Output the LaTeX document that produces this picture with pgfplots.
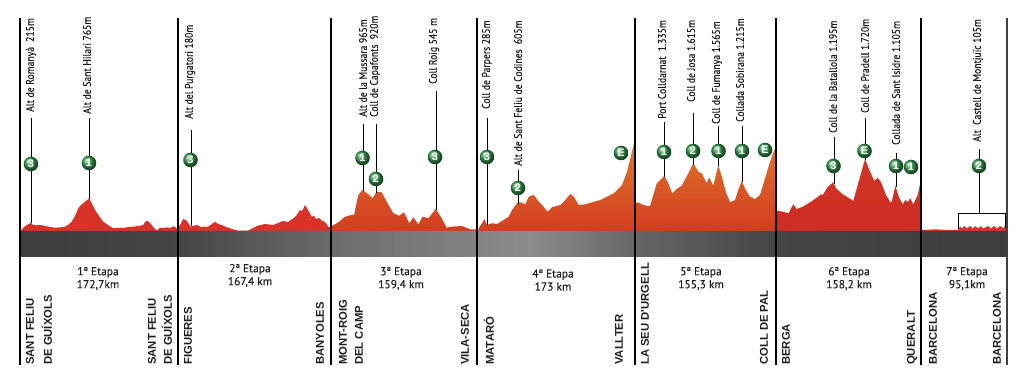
\documentclass[border=0pt]{standalone}
\usepackage{fontspec}
\usepackage{pgfplots}
\pgfplotsset{compat=1.18}
\setmainfont[FakeBold=0.15]{PT Sans}
\newfontfamily\climbf[FakeStretch=0.88,FakeBold=0.25]{PT Sans}
\newfontfamily\cityf{Liberation Sans}
\newfontfamily\numf{Liberation Sans}
\definecolor{rA}{HTML}{D8322A}
\definecolor{rAt}{HTML}{DA3428}
\definecolor{oT}{HTML}{DE7A2C}
\definecolor{oB}{HTML}{D43C20}
\definecolor{rB}{HTML}{CE2C24}
\definecolor{gM}{HTML}{32964A}
\newcommand{\cl}[3]{\node[rotate=90,anchor=west,inner sep=0pt,text=black!90,font=\climbf\fontsize{11}{11}\selectfont] at (axis cs:#1,#2) {#3};}
\newcommand{\city}[2]{\node[rotate=90,anchor=west,inner sep=0pt,text=black!88,font=\cityf\bfseries\fontsize{11.3}{11.3}\selectfont] at (axis cs:#1,-134) {#2};}
\newcommand{\stage}[4]{\node[align=center,inner sep=0pt,text=black!88,font=\fontsize{11.5}{13}\selectfont] at (axis cs:#1,#2) {#3\\#4};}
\begin{document}
\begin{tikzpicture}
\begin{axis}[
  scale only axis, width=1024pt, height=387pt,
  xmin=0, xmax=1024, ymin=-156, ymax=231,
  hide axis, clip=false, unbounded coords=jump,
]
\path (axis cs:0,-156) rectangle (axis cs:1024,231);
% --- profiles (height above the band, in px)
\addplot[draw=none,top color=rAt,bottom color=rA] coordinates {(20.7,0)(23,3)(26.7,6)(29,7)(30.7,8.3)(33,6)(36.7,5.7)(41,6)(45,5)(50,4)(55,3.3)(60,3.6)(65,4.3)(68,6)(71.7,9.3)(75,15)(78.3,22.7)(80,25)(83.3,28)(86,30)(89.3,32.7)(92,27)(95,21)(99,15)(103.3,9.3)(108,6)(113.3,2.7)(118,3.2)(123.3,3)(128,4)(133.3,4.3)(138,5)(143.3,6)(145,9)(147.3,10.3)(149,9)(151.7,6)(154,3)(156.7,0.3)(160,3.3)(163.3,3)(167,3.6)(170,3)(173,4.6)(175,4.3)(177.7,1)(177.7,0)};
\addplot[draw=none,top color=rAt,bottom color=rA] coordinates {(179,0)(179,4.3)(183.3,12)(186,11)(190.7,4.3)(193,5)(196.7,6)(201,4)(208,4.3)(212,7)(215,9.3)(218,7)(221.7,6)(226,4)(230,2.7)(238,0.3)(248,0.3)(256.7,5)(265,7)(273.3,6)(283,10)(288,9)(293.3,12.7)(296,15)(300,21)(302,20)(305,26)(308,21)(311.7,14.3)(314,15)(316,12)(319,13)(322,10)(325,9)(328.3,4.3)(331,3.3)(331,0)};
\addplot[draw=none,top color=oT!40!oB,bottom color=oB] coordinates {(331.7,0)(331.7,5)(338.3,8.7)(345,14.3)(351.7,16)(354,16)(358.3,36)(362.3,41)(368.3,36.7)(372.3,32.7)(376.7,39.3)(381.7,38.7)(386.7,29.3)(393.3,17.7)(399.3,15.3)(404,18.7)(409.3,7.7)(413.3,13.7)(418.3,6.7)(422.7,14.3)(428.3,12.7)(435.7,22)(441.7,12.7)(446.7,3.3)(451.7,4.3)(461.7,5)(470,1.7)(476.7,1.7)(476.7,0)};
\addplot[draw=none,top color=oT,bottom color=oB] coordinates {(478.3,0)(478.7,2.7)(482,7.7)(484.3,12)(487,6)(492,7.7)(497,7)(503.7,11)(508.7,14.3)(512,21)(517,27.7)(520.3,28.7)(525.3,26.7)(528.7,34.3)(533.7,36)(538.7,29.3)(542,26)(547.7,19.3)(552,23.7)(560.3,26)(565.3,31)(570.3,37)(573.7,34.3)(578.7,26)(585.3,26.7)(600.3,31)(613.7,37.7)(622,46)(627,59.3)(630.3,72.7)(634.3,89)(634.3,0)};
\addplot[draw=none,top color=oT!85!oB,bottom color=oB] coordinates {(635.7,0)(636,28.7)(640,27.7)(643.3,26)(650,24.7)(653.3,36)(656.7,47.7)(660,51)(664.3,55.3)(668.3,47.7)(672.3,37.7)(676.7,42)(681.7,45.3)(688.3,57.7)(693.3,67.7)(698.3,59.3)(701.7,57.7)(706.7,47.7)(709,53.7)(713.3,45.3)(718.3,66)(722.3,52.7)(725.7,39.3)(730,28.7)(735,31)(738.3,41)(741.7,50)(745.7,41)(750,34.3)(755,32)(760,36)(765,52.7)(770,69.3)(775,83)(775,0)};
\addplot[draw=none,top color=rB!88!oT,bottom color=rB] coordinates {(777,0)(777,20.3)(782.7,19.3)(788.7,17.7)(791,22.7)(793.3,26.7)(796.7,22)(802.7,24.3)(811,29.3)(817.7,34)(821,36.7)(822.7,36)(827.7,44)(833.3,48.7)(836,42.7)(842.7,36.7)(849.3,32.7)(853.3,30)(857.7,46)(861,57.7)(865,72)(869.3,61)(874.3,50)(877.7,53.3)(881,48.7)(886,36)(890,29.3)(891.7,28.7)(895.3,45.3)(898.7,34.3)(902.7,26.7)(905.3,31)(907.7,28.7)(910,32.7)(913.3,26.7)(917.7,36)(920,46.7)(920.5,0)};
\addplot[draw=none,fill=rA] coordinates {(922,0)(922,1)(932,1.5)(935,1.7)(944,1.2)(956,1)(958,1)(960,4.5)(962,2.5)(964,5)(967,2.5)(970,5)(973,2.5)(975,5)(978,2.5)(981,5)(983,2.5)(988,5)(991,2.5)(994,5)(997,2.5)(1000,5)(1003,3)(1005,5)(1006,3)(1006,0)};
% --- band under the profile
\addplot[draw=none,left color=black!76,right color=black!73] coordinates {(20,0)(178,0)(178,-26)(20,-26)} \closedcycle;
\addplot[draw=none,left color=black!73,right color=black!58] coordinates {(178,0)(331,0)(331,-26)(178,-26)} \closedcycle;
\addplot[draw=none,left color=black!58,right color=black!45] coordinates {(331,0)(530,0)(530,-26)(331,-26)} \closedcycle;
\addplot[draw=none,left color=black!45,right color=black!60] coordinates {(530,0)(635,0)(635,-26)(530,-26)} \closedcycle;
\addplot[draw=none,left color=black!60,right color=black!73] coordinates {(635,0)(776,0)(776,-26)(635,-26)} \closedcycle;
\addplot[draw=none,left color=black!73,right color=black!76] coordinates {(776,0)(1007,0)(1007,-26)(776,-26)} \closedcycle;
% --- stage separators
\addplot[black,line width=1.4pt] coordinates {(20,213)(20,-134) (nan,nan) (178,213)(178,-134) (nan,nan) (331,213)(331,-134) (nan,nan) (477,213)(477,-134) (nan,nan) (635,213)(635,-134) (nan,nan) (776,213)(776,-134) (nan,nan) (921,213)(921,-134)};
\addplot[black!75,line width=1.5pt] coordinates {(1007,213)(1007,-134)};
% --- climb leaders
\addplot[black,line width=1pt] coordinates {(31,113)(31,8) (nan,nan) (89,113)(89,32) (nan,nan) (191,101)(191,5)
 (nan,nan) (363,107)(363,40) (nan,nan) (376,107)(376,38) (nan,nan) (436,140)(436,21)
 (nan,nan) (487,113)(487,6) (nan,nan) (518,61)(518,27)
 (nan,nan) (664,109)(664,54) (nan,nan) (693,118)(693,66) (nan,nan) (718.5,105)(718.5,65) (nan,nan) (742,105)(742,49)
 (nan,nan) (834,94)(834,47) (nan,nan) (865,113)(865,71) (nan,nan) (896,78)(896,44)
 (nan,nan) (979,82)(979,17)};
% --- Montjuic circuit bracket
\addplot[black,line width=1pt] coordinates {(958.5,2)(958.5,17)(1005,17)(1005,3)};
% --- climb category badges
\addplot[only marks,mark=ball,mark size=7.3pt,ball color=gM,draw=none,
  point meta=explicit symbolic,
  nodes near coords,
  nodes near coords align={center},
  nodes near coords style={anchor=center,inner sep=0pt,text=white,font=\numf\bfseries\fontsize{11}{11}\selectfont},
] coordinates {
 (31,67)[3] (89,68)[1] (190.5,71)[3] (362.5,73)[1] (376,52)[2] (435,74)[3] (487,74)[3] (518,43)[2] (621,78)[E]
 (664,79)[1] (693,80)[2] (718.5,80)[1] (742,80)[1] (765,81)[E]
 (833.5,65)[3] (864.5,80)[E] (896,65)[1] (911,64)[1] (979,65)[2]};
% --- climb names
\cl{31}{119}{Alt de Romanyà~~215m}
\cl{87}{117}{Alt de Sant Hilari 765m}
\cl{190}{112}{Alt del Purgatori 180m}
\cl{363}{114}{Alt de la Mussara 965m}
\cl{375}{114}{Coll de Capafonts~~920m}
\cl{434}{147}{Coll Roig 545 m}
\cl{487}{122}{Coll de Parpers 285m}
\cl{518}{65}{Alt de Sant Feliu de Codines~~605m}
\cl{662}{112}{Port Colldarnat~~1.335m}
\cl{691}{129}{Coll de Josa 1.615m}
\cl{717}{107}{Coll de Fumanya 1.565m}
\cl{740}{109}{Collada Sobirana 1.215m}
\cl{833}{98}{Coll de la Batallola 1.195m}
\cl{865}{118}{Coll de Pradell 1.720m}
\cl{896}{86}{Collada de Sant Isidre 1.105m}
\cl{978}{89}{Alt~~Castell de Montjuïc 105m}
% --- stage captions
\stage{98}{-47.5}{1ª Etapa}{172,7km}
\stage{250}{-44.5}{2ª Etapa}{167,4 km}
\stage{401}{-47.5}{3ª Etapa}{159,4 km}
\stage{553}{-49}{4ª Etapa}{173 km}
\stage{701}{-47.5}{5ª Etapa}{155,3 km}
\stage{849}{-47.5}{6ª Etapa}{158,2 km}
\stage{967}{-47.5}{7ª Etapa}{95,1km}
% --- cities
\city{30}{SANT FELIU}
\city{47}{DE GUÍXOLS}
\city{152}{SANT FELIU}
\city{167}{DE GUÍXOLS}
\city{188}{FIGUERES}
\city{320}{BANYOLES}
\city{343}{MONT-ROIG}
\city{359}{DEL CAMP}
\city{465}{VILA-SECA}
\city{489}{MATARÓ}
\city{619}{VALLTER}
\city{645}{LA SEU D'URGELL}
\city{764}{COLL DE PAL}
\city{786}{BERGA}
\city{912}{QUERALT}
\city{933}{BARCELONA}
\city{997}{BARCELONA}
\end{axis}
\end{tikzpicture}
\end{document}
